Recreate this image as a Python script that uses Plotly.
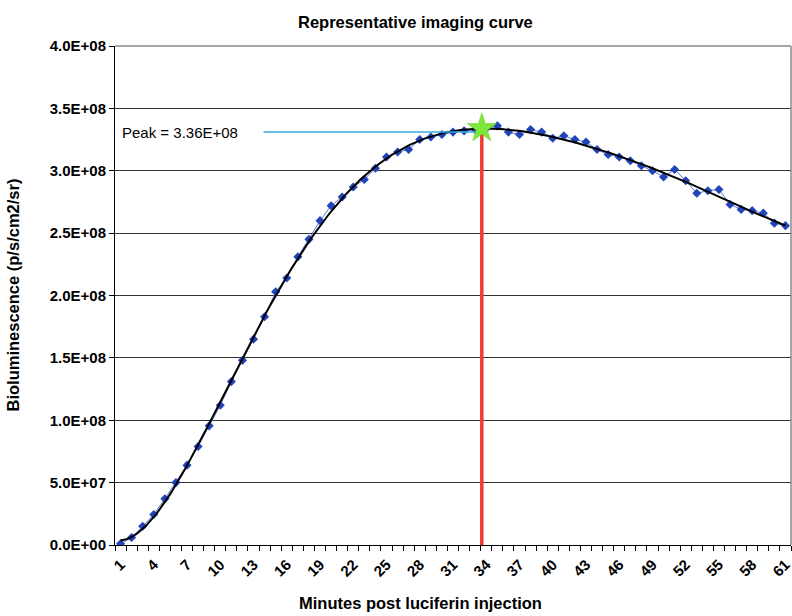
import numpy as np
import plotly.graph_objects as go

# minutes post injection (categories) and measured signal
minutes = list(range(1, 62))
signal = [0.01, 0.06, 0.15, 0.245, 0.37, 0.50, 0.64, 0.79, 0.955, 1.12,
          1.31, 1.48, 1.65, 1.83, 2.03, 2.14, 2.31, 2.45, 2.60, 2.72,
          2.79, 2.87, 2.93, 3.02, 3.11, 3.15, 3.17, 3.25, 3.27, 3.29,
          3.31, 3.32, 3.33, 3.34, 3.36, 3.31, 3.29, 3.33, 3.31, 3.26,
          3.28, 3.25, 3.23, 3.17, 3.13, 3.11, 3.08, 3.04, 3.00, 2.95,
          3.01, 2.92, 2.82, 2.84, 2.85, 2.73, 2.69, 2.68, 2.66, 2.58,
          2.56]
signal = [v * 1e8 for v in signal]

peak_minute = 33.6
peak_value = 3.34e8
peak_label_y = 3.31e8
peak_line_start = 13.9
peak_text = "Peak = 3.36E+08"

x_tickvals = list(range(1, 62, 3))
y_tickvals = [0, 0.5e8, 1.0e8, 1.5e8, 2.0e8, 2.5e8, 3.0e8, 3.5e8, 4.0e8]
y_ticktext = ["0.0E+00", "5.0E+07", "1.0E+08", "1.5E+08", "2.0E+08",
              "2.5E+08", "3.0E+08", "3.5E+08", "4.0E+08"]

FONT = "Arial, Liberation Sans, sans-serif"

# Excel-like polynomial trend line (order 6) fitted to the data
poly = np.polynomial.Polynomial.fit(minutes, signal, 6)
fit_x = np.linspace(minutes[0], minutes[-1], 300)
fit_y = poly(fit_x)

fig = go.Figure()

fig.add_trace(go.Scatter(
    x=minutes, y=signal, mode="lines+markers",
    line=dict(color="#5577dd", width=1),
    marker=dict(symbol="diamond", size=7, color="#2244bb"),
    hoverinfo="x+y",
))

fig.add_trace(go.Scatter(
    x=fit_x, y=fit_y, mode="lines",
    line=dict(color="black", width=2),
    hoverinfo="skip",
))

# peak markers
fig.add_trace(go.Scatter(
    x=[peak_line_start, peak_minute], y=[peak_label_y, peak_label_y],
    mode="lines", line=dict(color="#3aa8dc", width=1.5), hoverinfo="skip",
))
fig.add_trace(go.Scatter(
    x=[peak_minute, peak_minute], y=[0, peak_value],
    mode="lines", line=dict(color="#f03c2e", width=3.5), hoverinfo="skip",
))
fig.add_trace(go.Scatter(
    x=[peak_minute], y=[peak_value], mode="markers",
    marker=dict(symbol="star", size=22, color="#7ee83a",
                line=dict(color="#66cc22", width=0.5)),
    hoverinfo="x+y",
))

fig.update_xaxes(
    range=[0.5, 61.5], tickvals=x_tickvals, tickangle=-45,
    ticks="", showgrid=False, zeroline=False,
    showline=True, linecolor="black", linewidth=1,
    minor=dict(tick0=0.5, dtick=1, ticks="outside", ticklen=5,
               tickcolor="black", showgrid=False),
    tickfont=dict(family=FONT, size=15, color="black", weight="bold"),
    ticklabeloverflow="allow", ticklabelstandoff=4,
    automargin=False,
)
fig.update_yaxes(
    range=[0, 4.0e8], tickvals=y_tickvals, ticktext=y_ticktext,
    ticks="outside", ticklen=5, tickcolor="black",
    showgrid=True, gridcolor="#333333", gridwidth=1, zeroline=False,
    showline=True, linecolor="black", linewidth=1,
    tickfont=dict(family=FONT, size=15, color="black", weight="bold"),
    automargin=False,
)

# gray frame on top and right like the Excel plot area
fig.add_shape(type="line", xref="paper", yref="paper", x0=0, x1=1, y0=1, y1=1,
              line=dict(color="#888888", width=1.5))
fig.add_shape(type="line", xref="paper", yref="paper", x0=1, x1=1, y0=0, y1=1,
              line=dict(color="#888888", width=1.5))

fig.add_annotation(
    text=peak_text, xref="paper", yref="y", x=0.008, y=peak_label_y,
    xanchor="left", yanchor="middle", showarrow=False,
    font=dict(family=FONT, size=15, color="black"),
)
fig.add_annotation(
    text="Representative imaging curve", xref="paper", yref="paper",
    x=0.445, y=1.0, yshift=24, xanchor="center", yanchor="middle",
    showarrow=False, font=dict(family=FONT, size=16.5, color="black", weight="bold"),
)
fig.add_annotation(
    text="Minutes post luciferin injection", xref="paper", yref="paper",
    x=0.452, y=0, yshift=-58, xanchor="center", yanchor="middle",
    showarrow=False, font=dict(family=FONT, size=16.5, color="black", weight="bold"),
)
fig.add_annotation(
    text="Bioluminescence (p/s/cm2/sr)", xref="paper", yref="paper",
    x=0, xshift=-103, y=0.5, textangle=-90, xanchor="center", yanchor="middle",
    showarrow=False, font=dict(family=FONT, size=16.5, color="black", weight="bold"),
)

fig.update_layout(
    width=792, height=616,
    margin=dict(l=115, r=1, t=46, b=71),
    plot_bgcolor="white", paper_bgcolor="white",
    showlegend=False,
)

fig.write_html("out.html", config={"displayModeBar": False},
               post_script="document.body.style.margin='0';")
